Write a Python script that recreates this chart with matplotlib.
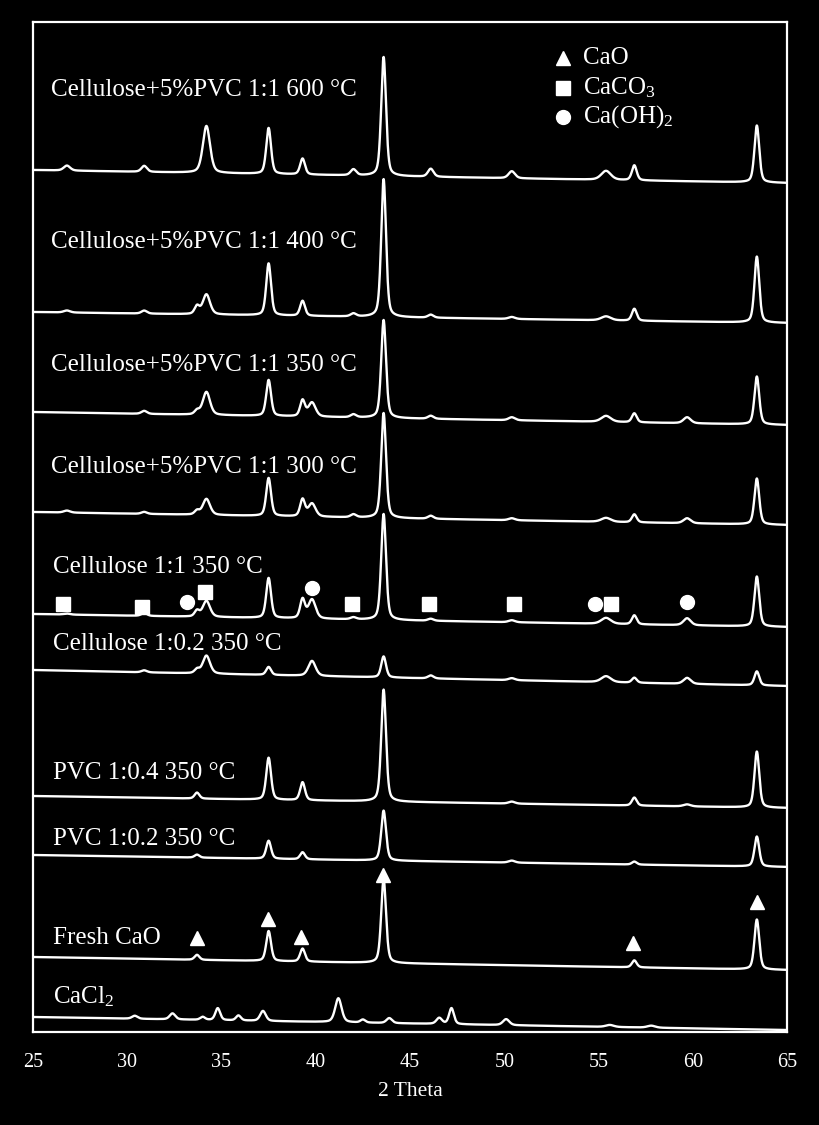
"""XRD patterns of CaO sorbents after HCl capture, stacked on a black background."""

import matplotlib

matplotlib.use("Agg")
import matplotlib.pyplot as plt
import numpy as np

plt.rcParams["font.family"] = ["Liberation Serif", "DejaVu Serif"]
plt.rcParams["mathtext.fontset"] = "custom"
plt.rcParams["mathtext.rm"] = "Liberation Serif"
plt.rcParams["mathtext.it"] = "Liberation Serif:italic"

# peak positions (2 theta) shared by the CaO based samples, and their FWHM
peak_pos = [26.8, 30.9, 33.7, 34.2, 37.5, 39.3, 39.8, 42.0, 43.6, 46.1, 50.4, 55.4, 56.9, 59.7, 63.4]
peak_fwhm = [0.4, 0.35, 0.3, 0.45, 0.3, 0.3, 0.45, 0.35, 0.3, 0.35, 0.4, 0.6, 0.3, 0.45, 0.3]

# peak heights per sample (arbitrary units)
h_600 = [5, 6, 0, 47, 46, 16, 0, 6, 119, 8, 7, 9, 15, 0, 57]
h_400 = [2, 3, 8, 20, 52, 15, 0, 3, 138, 3, 2, 4, 12, 0, 66]
h_350 = [0, 3, 4, 23, 36, 16, 14, 3, 98, 3, 3, 6, 9, 6, 48]
h_300 = [2, 2, 4, 16, 38, 17, 13, 3, 105, 3, 2, 4, 8, 5, 46]
h_cel_1 = [1, 3, 6, 16, 40, 19, 19, 2, 106, 2, 2, 6, 9, 7, 50]
h_cel_02 = [0, 2, 4, 18, 8, 0, 15, 0, 21, 3, 2, 6, 5, 6, 14]
h_pvc_04 = [0, 0, 6, 0, 42, 18, 0, 0, 112, 0, 2, 0, 8, 2, 56]
h_pvc_02 = [0, 0, 3, 0, 18, 7, 0, 0, 50, 0, 2, 0, 3, 0, 30]
h_fresh = [0, 0, 5, 0, 30, 13, 0, 0, 84, 0, 0, 0, 7, 0, 50]

# CaCl2 reference pattern
cacl2_pos = [30.4, 32.4, 34.0, 34.8, 35.9, 37.2, 41.2, 42.5, 43.9, 46.55, 47.2, 50.1, 55.6, 57.8]
cacl2_fwhm = [0.35, 0.35, 0.3, 0.3, 0.3, 0.35, 0.4, 0.3, 0.35, 0.35, 0.3, 0.4, 0.5, 0.5]
cacl2_h = [3, 6, 3, 12, 5, 10, 24, 3, 5, 6, 16, 6, 2, 2]

labels = [
    "Cellulose+5%PVC 1:1 600 °C",
    "Cellulose+5%PVC 1:1 400 °C",
    "Cellulose+5%PVC 1:1 350 °C",
    "Cellulose+5%PVC 1:1 300 °C",
    "Cellulose 1:1 350 °C",
    "Cellulose 1:0.2 350 °C",
    "PVC 1:0.4 350 °C",
    "PVC 1:0.2 350 °C",
    "Fresh CaO",
    "CaCl$_2$",
]
heights = [h_600, h_400, h_350, h_300, h_cel_1, h_cel_02, h_pvc_04, h_pvc_02, h_fresh, cacl2_h]
# background level at 25 and 65 degrees (stack offset included)
base_left = [862, 720, 620, 520, 418, 362, 236, 177, 75, 15]
base_right = [849, 709, 607, 507, 405, 346, 224, 165, 62, 2]
# label anchor height for each pattern
label_y = [942, 790, 667, 565, 465, 388, 259, 193, 94, 35]

# phase markers
caco3_x = [26.6, 30.8, 34.15, 41.9, 46.0, 50.5, 55.65]
caco3_y = [428, 425, 440, 428, 428, 428, 428]
caoh2_x = [33.15, 39.8, 54.8, 59.7]
caoh2_y = [430, 444, 428, 430]
cao_x = [33.7, 37.48, 39.23, 43.59, 56.82, 63.4]
cao_y = [94, 113, 95, 157, 89, 130]


def pattern(x, pos, fwhm, height):
    y = np.zeros_like(x)
    for p, w, h in zip(pos, fwhm, height):
        if h == 0:
            continue
        g = np.exp(-4 * np.log(2) * ((x - p) / w) ** 2)
        lor = 1 / (1 + 4 * ((x - p) / w) ** 2)
        y += h * (0.6 * g + 0.4 * lor)
    return y


two_theta = np.linspace(25, 65, 4001)

fig = plt.figure(figsize=(8.2, 11.25), dpi=100, facecolor="black")
ax = fig.add_axes([33 / 820, 1 - 1032 / 1125, 754 / 820, 1010 / 1125])
ax.set_facecolor("black")

for i, (label, h) in enumerate(zip(labels, heights)):
    if i == len(labels) - 1:
        signal = pattern(two_theta, cacl2_pos, cacl2_fwhm, h)
    else:
        signal = pattern(two_theta, peak_pos, peak_fwhm, h)
    background = base_left[i] + (base_right[i] - base_left[i]) * (two_theta - 25) / 40
    ax.plot(two_theta, signal + background, color="white", lw=1.7)
    ax.text(25.95 if i < 4 else 26.05, label_y[i], label, color="white",
            fontsize=18, va="center", ha="left")

ax.plot(caco3_x, caco3_y, "s", color="white", ms=10, ls="none")
ax.plot(caoh2_x, caoh2_y, "o", color="white", ms=10, ls="none")
ax.plot(cao_x, cao_y, "^", color="white", ms=10.5, ls="none")

# legend drawn by hand
legend_rows = [("^", "CaO"), ("s", "CaCO$_3$"), ("o", "Ca(OH)$_2$")]
for k, (marker, name) in enumerate(legend_rows):
    y = 0.964 - k * 0.0290
    ax.plot([0.703], [y], marker, color="white", ms=10, transform=ax.transAxes)
    ax.text(0.729, y, name, color="white", fontsize=18, va="center",
            transform=ax.transAxes)

ax.set_xlim(25, 65)
ax.set_ylim(0, 1010)
ax.set_xticks(range(25, 70, 5))
ax.set_yticks([])
ax.tick_params(axis="x", length=0, pad=15, colors="white", labelsize=14.5)
for spine in ax.spines.values():
    spine.set_color("white")
    spine.set_linewidth(1.6)
ax.set_xlabel("2 Theta", color="white", fontsize=15.5, labelpad=7)

fig.savefig("out.png", dpi=100, facecolor="black")
